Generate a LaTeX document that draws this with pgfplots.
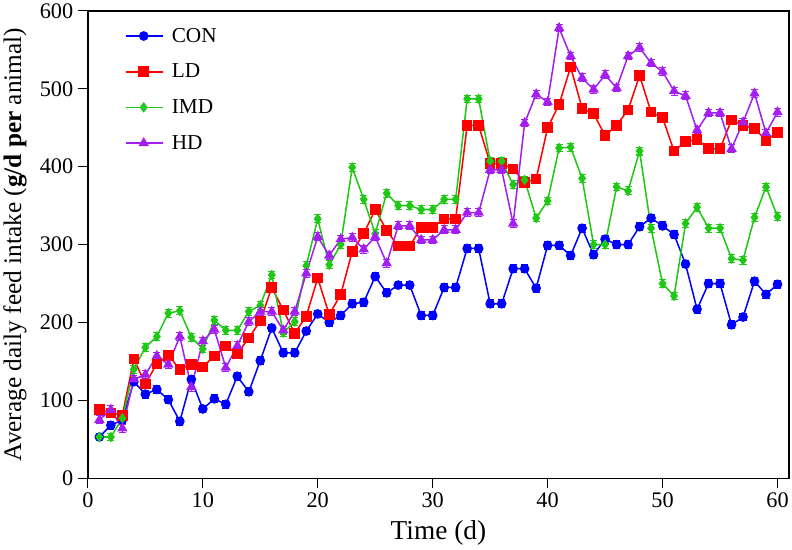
\documentclass[border=0pt]{standalone}
\usepackage{fontspec}
\setmainfont{Liberation Serif}
\usepackage{pgfplots}
\usepackage{pgfplotstable}
\pgfplotsset{compat=1.18}
\definecolor{cblue}{RGB}{0,0,255}
\definecolor{cred}{RGB}{255,0,0}
\definecolor{cgreen}{RGB}{30,200,20}
\definecolor{cpurple}{RGB}{165,30,240}
\pgfplotstableread{
d v
1 53
2 68
3 75
4 124
5 108
6 114
7 101
8 73
9 127
10 89
11 102
12 95
13 131
14 111
15 151
16 193
17 161
18 161
19 189
20 211
21 200
22 209
23 224
24 226
25 259
26 238
27 248
28 248
29 209
30 209
31 245
32 245
33 295
34 295
35 224
36 224
37 269
38 269
39 244
40 299
41 299
42 286
43 321
44 287
45 307
46 300
47 300
48 323
49 334
50 324
51 313
52 275
53 217
54 250
55 250
56 197
57 207
58 253
59 236
60 249
}\CON
\pgfplotstableread{
d v
1 88
2 84
3 81
4 153
5 121
6 147
7 158
8 140
9 146
10 143
11 157
12 170
13 160
14 180
15 202
16 245
17 216
18 186
19 208
20 257
21 210
22 236
23 291
24 314
25 345
26 318
27 298
28 298
29 322
30 322
31 333
32 333
33 453
34 453
35 404
36 404
37 397
38 380
39 384
40 450
41 480
42 528
43 475
44 468
45 440
46 453
47 473
48 517
49 470
50 463
51 420
52 432
53 435
54 423
55 423
56 460
57 453
58 449
59 434
60 444
}\LD
\pgfplotstableread{
d v
1 53
2 53
3 77
4 140
5 168
6 182
7 212
8 215
9 181
10 166
11 203
12 190
13 190
14 214
15 222
16 261
17 187
18 201
19 273
20 333
21 274
22 300
23 399
24 358
25 314
26 366
27 350
28 350
29 345
30 345
31 358
32 358
33 487
34 487
35 407
36 407
37 377
38 383
39 334
40 356
41 424
42 425
43 385
44 300
45 300
46 374
47 369
48 420
49 321
50 250
51 234
52 327
53 348
54 321
55 321
56 282
57 280
58 335
59 374
60 336
}\IMD
\pgfplotstableread{
d v
1 75
2 88
3 64
4 127
5 133
6 157
7 146
8 182
9 117
10 176
11 191
12 142
13 170
14 201
15 214
16 214
17 190
18 214
19 263
20 310
21 286
22 307
23 309
24 294
25 310
26 276
27 324
28 324
29 306
30 306
31 319
32 319
33 341
34 341
35 396
36 396
37 327
38 456
39 493
40 483
41 578
42 542
43 514
44 499
45 518
46 501
47 542
48 553
49 533
50 522
51 497
52 491
53 447
54 469
55 469
56 423
57 457
58 494
59 443
60 470
}\HD
\begin{document}
\begin{tikzpicture}
\begin{axis}[
  scale only axis,
  width=693pt, height=462pt,
  xmin=0, xmax=61, ymin=0, ymax=600,
  xtick={0,10,...,60}, ytick={0,100,...,600},
  axis line style={line width=1.3pt},
  tick style={line width=1.2pt, black},
  tick align=outside,
  major tick length=10pt,
  xtick pos=bottom, ytick pos=left,
  /pgf/number format/assume math mode=true,
  tick label style={font=\fontsize{22}{26}\selectfont},
  xticklabel style={yshift=-1pt},
  yticklabel style={xshift=-1pt},
  xlabel={Time (d)},
  ylabel={Average daily feed intake (\textbf{g/d per} animal)},
  ylabel style={yshift=6pt, font=\fontsize{25}{29}\selectfont},
  xlabel style={yshift=-6pt, font=\fontsize{27}{31}\selectfont},
  legend style={at={(0.048,0.972)}, anchor=north west, draw=none, fill=none,
    font=\fontsize{21}{25}\selectfont, row sep=16pt,
    nodes={inner xsep=8pt}},
  legend cell align=left,
  legend image code/.code={\draw[mark repeat=2,mark phase=2] plot coordinates {(0pt,0pt) (18pt,0pt) (37pt,0pt)};},
  every axis plot/.append style={line width=1.5pt},
  error bars/y dir=both, error bars/y fixed=5,
  error bars/error bar style={line width=1pt},
  error bars/error mark options={rotate=90, mark size=3.5pt, line width=1pt},
]
\addplot[color=cblue, mark=*, mark size=4pt] table[x=d,y=v] {\CON};
\addlegendentry{CON}
\addplot[color=cred, mark=square*, mark size=4.5pt] table[x=d,y=v] {\LD};
\addlegendentry{LD}
\addplot[color=cgreen, mark=diamond*, mark size=4pt] table[x=d,y=v] {\IMD};
\addlegendentry{IMD}
\addplot[color=cpurple, mark=triangle*, mark size=4.5pt] table[x=d,y=v] {\HD};
\addlegendentry{HD}
\end{axis}
\end{tikzpicture}
\end{document}
